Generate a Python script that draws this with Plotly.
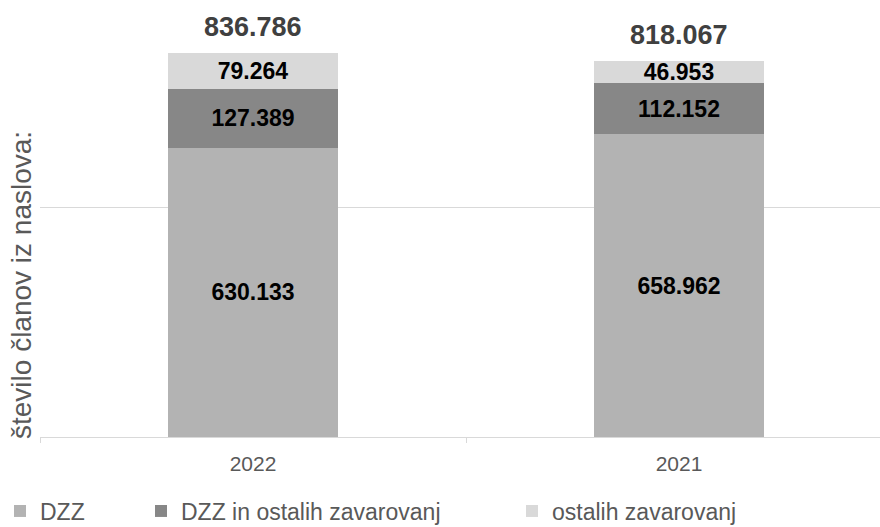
import plotly.graph_objects as go

years = ["2022", "2021"]
dzz = [630133, 658962]
dzz_ostalih = [127389, 112152]
ostalih = [79264, 46953]
series_names = ["DZZ", "DZZ in ostalih zavarovanj", "ostalih zavarovanj"]
series_colors = ["#b3b3b3", "#878787", "#d9d9d9"]
axis_title = "število članov iz naslova:"

FONT = "Liberation Sans, Arial, sans-serif"
W, H = 880, 527

def fmt(v):
    return f"{v:,}".replace(",", ".")

fig = go.Figure()
legend_ids = ["legend", "legend2", "legend3"]
for vals, name, col, lg in zip([dzz, dzz_ostalih, ostalih], series_names, series_colors, legend_ids):
    fig.add_trace(go.Bar(
        x=years, y=vals, name=name, legend=lg,
        marker=dict(color=col, line=dict(width=0)),
        width=0.401,
        text=[fmt(v) for v in vals],
        textposition="inside", insidetextanchor="middle", textangle=0,
        textfont=dict(family=FONT, size=23, color="#000000", weight="bold"),
        hoverinfo="skip",
    ))

totals = [a + b + c for a, b, c in zip(dzz, dzz_ostalih, ostalih)]
for i, t in enumerate(totals):
    fig.add_annotation(x=i, y=t, xref="x", yref="y", text=fmt(t), showarrow=False,
                       yanchor="middle", yshift=26,
                       font=dict(family=FONT, size=27, color="#404040", weight="bold"))

fig.add_annotation(xref="paper", yref="paper", x=(21 - 40) / 840, y=(437 - 285) / 437,
                   text=axis_title, textangle=-90, showarrow=False,
                   xanchor="center", yanchor="middle",
                   font=dict(family=FONT, size=28, color="#595959"))

legend_x_px = [0, 141, 512]
legend_common = dict(xref="container", yref="container", y=1 - 511 / H, yanchor="middle",
                     xanchor="left", orientation="h", bgcolor="rgba(0,0,0,0)",
                     font=dict(family=FONT, size=23, color="#595959"))
fig.update_layout(
    legend=dict(x=legend_x_px[0] / W, **legend_common),
    legend2=dict(x=legend_x_px[1] / W, **legend_common),
    legend3=dict(x=legend_x_px[2] / W, **legend_common),
)

fig.update_layout(
    width=W, height=H,
    barmode="stack",
    separators=",.",
    paper_bgcolor="white", plot_bgcolor="white",
    margin=dict(l=40, r=0, t=0, b=90, pad=0),
    showlegend=True,
    uniformtext=dict(minsize=23, mode="show"),
    xaxis=dict(
        type="category",
        range=[-0.5, 1.5 - 12 / 426],
        showline=True, linecolor="#d9d9d9", linewidth=1,
        ticks="outside", tickson="boundaries", ticklen=5, tickcolor="#d9d9d9",
        showgrid=False, ticklabelstandoff=8,
        tickfont=dict(family=FONT, size=21, color="#595959"),
    ),
    yaxis=dict(
        range=[0, 951600], dtick=500000, showgrid=True, gridcolor="#d9d9d9", gridwidth=1,
        zeroline=False, showticklabels=False, showline=False,
    ),
)

fig.write_html("out.html", config={"displayModeBar": False},
               post_script="document.body.style.margin='0';document.body.style.overflow='hidden';")
